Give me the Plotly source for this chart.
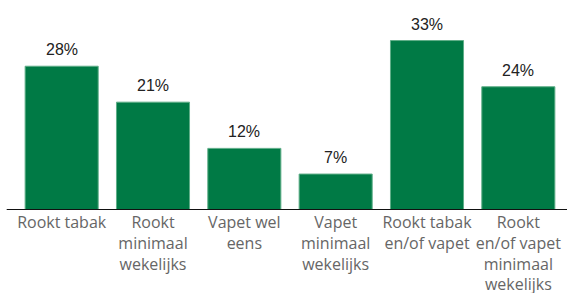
import plotly.graph_objects as go

categories = ["Rookt tabak", "Rookt<br>minimaal<br>wekelijks", "Vapet wel<br>eens",
              "Vapet<br>minimaal<br>wekelijks", "Rookt tabak<br>en/of vapet",
              "Rookt<br>en/of vapet<br>minimaal<br>wekelijks"]
values = [28, 21, 12, 7, 33, 24]
labels = [f"{v}%" for v in values]

fig = go.Figure()
fig.add_trace(go.Bar(
    x=categories, y=values,
    marker=dict(color="#007A45", line=dict(color="#5fae88", width=1)),
    width=0.8, hoverinfo="skip",
))
for c, v, l in zip(categories, values, labels):
    fig.add_annotation(x=c, y=v, text=l, showarrow=False, yanchor="bottom", yshift=6,
                       font=dict(family="Liberation Sans, Arial", size=16, color="#222222"))

fig.add_shape(type="line", xref="paper", yref="y", x0=-0.017, x1=1.01, y0=0, y1=0,
              line=dict(color="#111111", width=2))

fig.update_layout(
    width=567, height=293,
    margin=dict(l=16, r=3, t=20, b=83),
    paper_bgcolor="white", plot_bgcolor="white",
    showlegend=False, bargap=0.2,
    xaxis=dict(showline=False, showgrid=False, ticks="", tickangle=0, automargin=False,
               ticklabelstandoff=1,
               tickfont=dict(family="Open Sans", size=16, color="#666666"),
               fixedrange=True),
    yaxis=dict(range=[0, 37], visible=False, fixedrange=True, automargin=False),
)
fig.write_html("out.html", config={"displayModeBar": False},
               post_script="document.body.style.margin='0';document.body.style.overflow='hidden';")
